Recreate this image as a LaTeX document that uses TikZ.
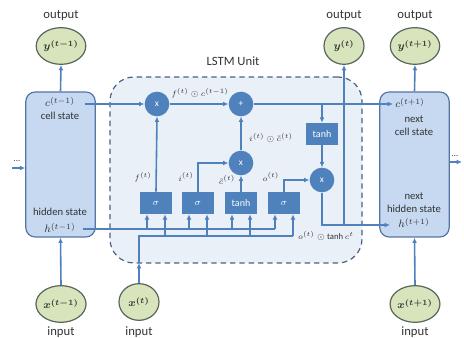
\documentclass[tikz,border=0pt]{standalone}
\usepackage{amsmath}
\usepackage{fontspec}
\setmainfont{Carlito}
\usetikzlibrary{arrows.meta,shapes.geometric,calc}

\definecolor{boxfill}{HTML}{C6D9F0}
\definecolor{boxline}{HTML}{5675A6}
\definecolor{unitfill}{HTML}{EAF0F8}
\definecolor{unitline}{HTML}{4A6283}
\definecolor{flow}{HTML}{4F81BD}
\definecolor{gatefill}{HTML}{4F81BD}
\definecolor{iofill}{HTML}{D8E4BC}
\definecolor{ioline}{HTML}{58665C}
\definecolor{txt}{HTML}{333333}

\begin{document}
\begin{tikzpicture}[x=0.75pt,y=-0.75pt,
  cellbox/.style={draw=boxline, fill=boxfill, line width=0.9pt, rounded corners=7pt,
    minimum width=52pt, minimum height=108.75pt, inner sep=0pt},
  unit/.style={draw=unitline, fill=unitfill, line width=0.9pt, dash pattern=on 4pt off 3pt,
    rounded corners=18pt, minimum width=189pt, minimum height=139.5pt, inner sep=0pt},
  iocirc/.style={ellipse, draw=ioline, fill=iofill, line width=0.9pt,
    minimum width=30pt, minimum height=27.5pt, inner sep=0pt, text=txt,
    font=\fontsize{8.5}{10}\selectfont\boldmath},
  opnode/.style={circle, fill=gatefill, minimum size=18.5pt, inner sep=0pt,
    text=white, font=\fontsize{7}{8}\selectfont},
  gatebox/.style={rectangle, fill=gatefill, minimum width=23.5pt, minimum height=16.5pt,
    inner sep=0pt, text=white, font=\fontsize{7.5}{8.5}\selectfont},
  flowline/.style={draw=flow, line width=1.2pt},
  arr/.style={flowline, -{Latex[length=4pt,width=3.6pt]}},
  lbl/.style={text=txt, font=\fontsize{9.5}{11}\selectfont, inner sep=0pt},
  boxtxt/.style={text=txt, font=\fontsize{8}{9.5}\selectfont, align=center, inner sep=0pt},
  mathlbl/.style={text=txt, font=\fontsize{6.5}{7.5}\selectfont, inner sep=0pt}]

\useasboundingbox (0,0) rectangle (464,338);

% LSTM unit region
\node[unit] (lstm) at (236,170) {};
\node[lbl] (title) at (233,61) {LSTM Unit};

% previous and next cells
\node[cellbox] (lbox) at (60.5,164.5) {};
\node[cellbox] (rbox) at (414.5,164.5) {};

\node[boxtxt] (cprev) at (60,102) {$c^{(t-1)}$};
\node[boxtxt] (cstate) at (60,116) {cell state};
\node[boxtxt] (hstate) at (60,212) {hidden state};
\node[boxtxt] (hprev) at (60,228) {$h^{(t-1)}$};

\node[boxtxt] (cnext) at (410,103) {$c^{(t+1)}$};
\node[boxtxt] (ncstate) at (414,126) {next\\cell state};
\node[boxtxt] (nhstate) at (414,203) {next\\hidden state};
\node[boxtxt] (hnext) at (414,223) {$h^{(t+1)}$};

% outputs and inputs
\node[iocirc] (yprev) at (61,46) {$y^{(t-1)}$};
\node[iocirc] (ycur) at (344,46) {$y^{(t)}$};
\node[iocirc] (ynext) at (415,46) {$y^{(t+1)}$};
\node[lbl] (oprev) at (61,16) {output};
\node[lbl] (ocur) at (344,16) {output};
\node[lbl] (onext) at (415,16) {output};

\node[iocirc] (xprev) at (61,304) {$x^{(t-1)}$};
\node[iocirc] (xcur) at (139,302) {$x^{(t)}$};
\node[iocirc] (xnext) at (415,304) {$x^{(t+1)}$};
\node[lbl] (iprev) at (61,332) {input};
\node[lbl] (icur) at (139,332) {input};
\node[lbl] (inext) at (415,332) {input};

% gates
\node[gatebox] (fgate) at (156,203) {$\sigma$};
\node[gatebox] (igate) at (198,203) {$\sigma$};
\node[gatebox] (cgate) at (241,203) {tanh};
\node[gatebox] (ogate) at (284,203) {$\sigma$};
\node[gatebox] (tanhc) at (322,134) {tanh};

\node[mathlbl] (flbl) at (143,177) {$f^{(t)}$};
\node[mathlbl] (ilbl) at (186,177) {$i^{(t)}$};
\node[mathlbl] (clbl) at (227,180) {$\tilde{c}^{(t)}$};
\node[mathlbl] (olbl) at (271,177) {$o^{(t)}$};

% pointwise operations
\node[opnode] (fx) at (157,104) {x};
\node[opnode] (plus) at (241,104) {+};
\node[opnode] (ix) at (241,163) {x};
\node[opnode] (ox) at (322,180) {x};

\node[mathlbl] (fclbl) at (200,93) {$f^{(t)}\odot c^{(t-1)}$};
\node[mathlbl] (iclbl) at (271,138) {$i^{(t)}\odot \tilde{c}^{(t)}$};
\node[mathlbl] (oclbl) at (326,236) {$o^{(t)}\odot\tanh c^{t}$};

% anchor points of the flow lines
\coordinate (cout) at (85,104);
\coordinate (cbranch) at (322,104);
\coordinate (cin) at (393,104);
\coordinate (hstart) at (83,229);
\coordinate (hend) at (275,229);
\coordinate (xup) at (139,263);
\coordinate (xcorner) at (139,236);
\coordinate (xend) at (293,236);
\coordinate (hsplit) at (344,225);
\coordinate (hin) at (390,225);
\coordinate (lin) at (12,168);
\coordinate (rout) at (462,162);

% cell state path
\draw[arr] (cout) -- (fx.west);
\draw[arr] (fx.east) -- (plus.west);
\draw[arr] (plus.east) -- (cin);
\draw[arr] (cbranch) -- (tanhc.north);

% hidden state and input buses
\draw[flowline] (hstart) -- (hend);
\draw[arr] (xcur.north) -- (xup);
\draw[flowline] (xup) -- (xcorner) -- (xend);
\foreach \g in {fgate,igate,cgate,ogate}{
  \coordinate (gl) at ($(\g.south)+(-6.75pt,0)$);
  \coordinate (gr) at ($(\g.south)+(6.75pt,0)$);
  \draw[arr] (gl |- hstart) -- (gl);
  \draw[arr] (gr |- xcorner) -- (gr);
}

% gate outputs
\draw[arr] (fgate.north) -- (fx.south);
\draw[arr] (igate.north) |- (ix.west);
\draw[arr] (cgate.north) -- (ix.south);
\draw[arr] (ix.north) -- (plus.south);
\draw[arr] (ogate.north) |- (ox.west);
\draw[arr] (tanhc.south) -- (ox.north);

% new hidden state
\draw[arr] (ox.south) |- (hin);
\draw[arr] (hsplit) -- (ycur.south);

% neighbouring cells
\draw[arr] (lbox.north) -- (yprev.south);
\draw[arr] (rbox.north) -- (ynext.south);
\draw[arr] (xprev.north) -- (lbox.south);
\draw[arr] (xnext.north) -- (rbox.south);
\draw[arr] (lin) -- (lin -| lbox.west);
\draw[arr] (rout -| rbox.east) -- (rout);
\node[mathlbl] (ldots) at (17,161) {...};
\node[mathlbl] (rdots) at (455,156) {...};
\end{tikzpicture}
\end{document}
